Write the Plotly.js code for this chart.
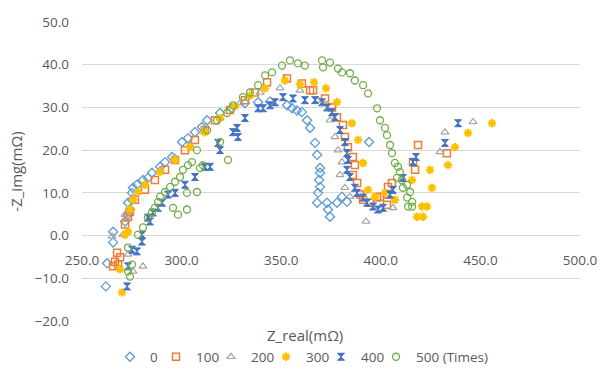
<!DOCTYPE html>
<html>
<head>
<meta charset="utf-8">
<script src="https://cdn.plot.ly/plotly-3.0.1.min.js"></script>
<style>html,body{margin:0;padding:0;background:#fff;}#chart{width:600px;height:384px;}</style>
</head>
<body>
<div id="chart"></div>
<script>
// Legend names (cycle counts)
const seriesNames = ["0", "100", "200", "300", "400", "500\u00a0(Times)"];
const xTicks = [250, 300, 350, 400, 450, 500];
const yTicks = [-20, -10, 0, 10, 20, 30, 40, 50];

// Series 0
const x0 = [262.0,262.6,265.6,265.6,271.6,273.1,274.1,273.1,275.1,275.1,275.6,277.6,280.6,283.1,285.1,289.2,291.7,295.2,300.2,303.2,306.7,310.2,312.8,319.3,325.3,331.8,338.4,344.4,352.9,355.4,357.9,360.4,363.0,364.5,367.0,368.0,369.5,369.5,369.0,369.5,368.5,368.0,373.0,373.5,374.5,378.0,380.5,383.0,394.1];
const y0 = [-11.9,-6.5,-1.6,0.9,3.3,4.9,6.1,7.7,8.4,10.0,11.2,11.9,13.0,13.5,14.7,16.1,17.2,18.4,21.9,22.8,24.2,25.4,27.0,28.7,29.8,31.0,31.2,31.4,30.5,29.8,29.3,28.9,27.0,25.2,21.7,18.9,15.8,14.7,13.0,11.4,10.0,7.7,7.7,6.1,4.4,7.7,9.1,7.9,21.9];
// Series 100
const x1 = [267.6,266.6,268.1,265.6,269.1,271.6,273.1,274.1,276.6,281.6,286.6,291.7,296.7,301.7,306.7,311.7,316.8,324.3,331.8,336.8,342.9,352.9,360.4,364.5,366.0,372.0,375.5,378.0,381.0,382.0,383.5,386.0,387.0,386.0,388.1,389.6,391.1,394.6,398.1,399.6,403.1,403.1,403.6,405.6,416.2,417.2,418.7,433.2];
const y1 = [-4.0,-6.1,-6.8,-7.2,-5.1,2.6,4.4,5.6,8.4,10.7,13.0,15.4,17.7,20.0,22.4,24.7,27.0,29.4,31.7,33.5,35.9,36.8,35.6,34.0,34.0,32.1,30.0,27.7,25.9,23.1,20.7,18.4,16.5,14.2,12.3,9.6,8.4,7.7,8.9,9.1,9.6,7.2,11.4,12.3,17.2,15.4,21.2,19.3];
// Series 200
const x2 = [265.1,273.1,280.6,275.6,270.6,271.6,276.6,281.6,289.2,296.7,304.2,311.7,319.3,329.3,339.4,349.4,359.4,368.5,374.5,377.0,378.5,380.5,379.5,382.0,384.5,392.6,406.1,429.7,432.2,446.3];
const y2 = [-0.2,-4.4,-7.2,-8.4,0.2,4.9,9.6,11.9,15.4,18.2,21.2,24.7,27.5,31.0,33.5,34.5,34.0,31.7,27.0,23.1,20.0,17.2,14.2,11.2,9.1,3.3,6.5,19.6,24.2,26.6];
// Series 300
const x3 = [270.1,269.1,271.6,273.1,274.1,275.6,278.1,281.6,289.2,296.7,304.2,311.7,319.3,326.8,334.3,341.9,351.9,359.4,366.5,372.5,378.0,385.5,388.6,391.1,393.6,397.1,402.1,407.1,415.7,418.2,421.2,420.7,423.2,425.7,424.7,433.7,437.2,443.8,455.8];
const y3 = [-13.3,-7.9,0.2,0.9,6.1,8.4,10.2,11.9,14.9,17.7,20.7,24.2,27.5,30.3,32.8,34.5,36.3,35.4,35.9,34.5,31.2,26.3,22.4,17.0,10.7,9.1,10.0,8.4,13.0,4.4,4.4,6.8,6.8,11.2,15.4,16.5,20.7,24.0,26.3];
// Series 400
const x4 = [272.6,273.1,275.1,277.6,280.1,280.1,283.1,284.1,285.6,288.2,290.2,293.2,296.7,301.7,306.7,311.7,314.3,318.3,319.3,325.8,327.8,328.3,331.8,338.4,340.9,344.4,346.9,350.9,355.9,361.9,367.0,370.5,373.0,375.5,377.0,379.5,382.0,383.0,383.5,383.0,384.5,387.0,388.1,391.1,393.1,396.1,398.6,401.1,404.6,406.1,411.1,416.2,417.7,432.2,438.8];
const y4 = [-11.9,-7.2,-3.3,-3.7,-1.4,0.2,4.2,3.3,5.4,6.5,7.7,9.6,10.0,11.9,13.7,16.1,16.1,21.7,20.0,24.2,25.2,23.1,27.5,29.8,29.8,30.5,31.2,32.4,32.1,31.7,31.7,31.2,30.0,28.9,27.7,24.7,21.9,19.3,17.7,15.4,13.7,11.2,10.0,8.9,7.7,6.8,6.1,6.5,9.6,10.7,13.5,17.2,18.4,21.7,26.3];
// Series 500
const x5 = [273.1,275.1,273.1,274.1,278.1,280.6,283.1,285.1,286.6,288.2,289.2,291.7,294.2,296.7,299.2,300.7,303.2,305.2,307.7,312.8,317.8,322.8,325.8,330.8,334.3,338.4,341.9,345.4,350.4,354.4,358.4,361.9,370.5,374.5,371.0,378.5,380.5,384.5,387.0,391.1,393.6,398.1,399.6,402.1,403.1,404.6,405.6,407.1,408.6,409.6,408.1,410.6,411.1,413.2,414.7,413.2,415.7,413.7,415.7,295.7,298.2,302.7,302.7,307.7,309.2,310.7,319.3,323.3];
const y5 = [-2.8,-6.8,-8.4,-9.6,0.2,1.9,4.2,5.4,6.5,7.9,9.1,10.2,11.4,12.6,13.7,15.4,16.5,17.2,20.0,24.7,27.0,28.7,30.5,32.4,33.5,35.2,37.5,38.2,39.8,41.0,40.3,39.8,41.0,40.5,39.4,39.1,38.2,38.0,36.3,35.2,33.3,29.8,27.0,25.2,23.5,21.2,19.3,17.0,16.1,14.9,13.5,13.0,11.2,11.9,10.2,8.9,7.9,6.8,6.8,6.5,4.9,6.1,10.0,10.2,15.8,16.5,21.9,17.7];

const xs = [x0, x1, x2, x3, x4, x5];
const ys = [y0, y1, y2, y3, y4, y5];
const colors = ["#5B9BD5", "#ED7D31", "#A5A5A5", "#FFC000", "#4472C4", "#70AD47"];
const symbols = ["diamond-open", "square-open", "triangle-up-open", "asterisk-open", "hourglass", "circle-open"];
const sizes = [7, 7, 7, 7, 7, 7];
const lineW = [1.3, 1.5, 1.2, 2, 1, 1.3];
const legendW = [1, 10, 10, 10, 10, 0];

const traces = xs.map((xv, i) => ({
  type: "scatter",
  mode: "markers",
  name: seriesNames[i],
  x: xv,
  y: ys[i],
  legendwidth: legendW[i],
  marker: {
    symbol: symbols[i],
    size: sizes[i],
    color: colors[i],
    line: { color: colors[i], width: lineW[i] }
  }
}));

const tickFont = { family: "Open Sans, sans-serif", size: 13.5, color: "#595959" };

const layout = {
  width: 600,
  height: 384,
  paper_bgcolor: "#ffffff",
  plot_bgcolor: "#ffffff",
  margin: { l: 82, r: 20, t: 21.5, b: 62.5 },
  showlegend: true,
  xaxis: {
    range: [250, 500],
    tickvals: xTicks,
    tickformat: ".1f",
    showgrid: false,
    zeroline: false,
    showline: false,
    ticks: "",
    anchor: "free",
    position: 20 / 70,
    ticklabelstandoff: 15,
    tickfont: tickFont
  },
  yaxis: {
    range: [-20, 50],
    tickvals: yTicks,
    tickformat: ".1f",
    showgrid: true,
    gridcolor: "#D9D9D9",
    gridwidth: 1,
    zeroline: false,
    showline: false,
    ticks: "",
    ticklabelstandoff: 12,
    tickfont: tickFont,
    title: { text: "-Z_img(mΩ)", font: { family: "Open Sans, sans-serif", size: 15, color: "#595959" }, standoff: 8 }
  },
  legend: {
    orientation: "h",
    xref: "container",
    yref: "container",
    x: 110 / 600,
    xanchor: "left",
    y: (384 - 357) / 384,
    yanchor: "middle",
    font: { family: "Open Sans, sans-serif", size: 13.5, color: "#595959" },
    itemwidth: 30,
    tracegroupgap: 0
  },
  annotations: [{
    text: "Z_real(mΩ)",
    xref: "paper",
    yref: "paper",
    x: (305 - 82) / 498,
    y: (322 - 336) / 300.5,
    xanchor: "center",
    yanchor: "middle",
    showarrow: false,
    font: { family: "Open Sans, sans-serif", size: 15, color: "#595959" }
  }]
};

Plotly.newPlot("chart", traces, layout, { displayModeBar: false, staticPlot: true });
</script>
</body>
</html>
